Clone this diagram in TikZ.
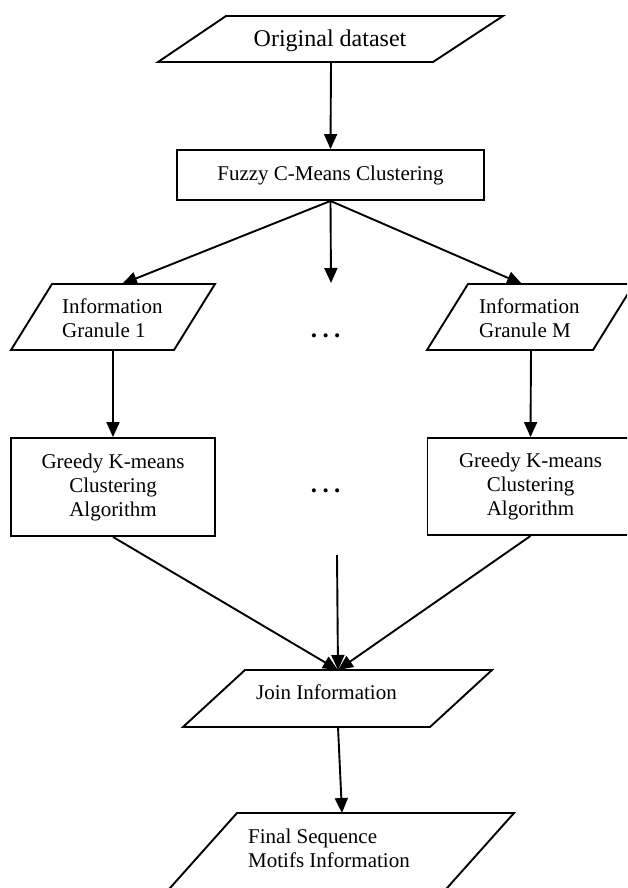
\documentclass[tikz,border=0pt]{standalone}
\usepackage{fontspec}
\setmainfont{Liberation Serif}
\usetikzlibrary{arrows.meta}
\tikzset{
  shapeline/.style={draw=black, line width=1.9pt, line join=miter},
  boxnode/.style={draw=black, line width=1.9pt, rectangle, inner sep=0pt, align=center, font=\fontsize{21}{24}\selectfont},
  txt/.style={inner sep=0pt, font=\fontsize{21}{24}\selectfont},
  dotsnode/.style={inner sep=0pt, anchor=base, font=\bfseries\fontsize{25}{28}\selectfont},
  flow/.style={-{Triangle[length=15pt,width=13pt]}, line width=1.9pt}
}
\begin{document}
\begin{tikzpicture}[x=1pt,y=-1pt]
\useasboundingbox (0,0) rectangle (627,888);
\clip (0,0) rectangle (627,888);
% Original dataset
\draw[shapeline] (226,16) -- (503,16) -- (433,62) -- (158,62) -- cycle;
\node[txt, font=\fontsize{24}{27}\selectfont, anchor=base] (orig) at (330,47) {Original dataset};
\coordinate (origB) at (331,62);
% Fuzzy C-Means
\node[boxnode, minimum width=307pt, minimum height=50pt] (fcm) at (330.5,175) {Fuzzy C-Means Clustering};
% Granules
\draw[shapeline] (52,284) -- (215,284) -- (174,350) -- (11,350) -- cycle;
\node[txt, align=left, anchor=west] (g1) at (62,318) {Information\\Granule 1};
\coordinate (g1T) at (122,284);
\coordinate (g1B) at (113,350);
\draw[shapeline] (468,284) -- (634,284) -- (593,350) -- (427,350) -- cycle;
\node[txt, align=left, anchor=west] (gM) at (479,318) {Information\\Granule M};
\coordinate (gMT) at (522,284);
\coordinate (gMB) at (531,350);
\coordinate (mid1) at (331,283);
\node[dotsnode] (dots1) at (325.7,337) {.\kern5.4pt.\kern5.4pt.};
% Greedy boxes
\node[boxnode, minimum width=204pt, minimum height=98pt] (k1) at (113,487) {Greedy K-means\\Clustering\\Algorithm};
\node[boxnode, minimum width=206pt, minimum height=97pt] (kM) at (530.5,486.5) {Greedy K-means\\Clustering\\Algorithm};
\node[dotsnode] (dots2) at (325.7,492) {.\kern5.4pt.\kern5.4pt.};
\coordinate (mid2) at (337,555);
% Join
\draw[shapeline] (245,670) -- (492,670) -- (430,727) -- (183,727) -- cycle;
\node[txt, anchor=base] (join) at (326.5,699) {Join Information};
\coordinate (joinT) at (338,670);
\coordinate (joinB) at (338,727);
% Final
\draw[shapeline] (237,813) -- (514,813) -- (436.3,900) -- (159.3,900) -- cycle;
\node[txt, align=left, anchor=west] (fin) at (248,848) {Final Sequence\\Motifs Information};
\coordinate (finT) at (342,813);
% Connectors
\draw[flow] (origB) -- (fcm.north);
\draw[flow] (fcm.south) -- (g1T);
\draw[flow] (fcm.south) -- (mid1);
\draw[flow] (fcm.south) -- (gMT);
\draw[flow] (g1B) -- (k1.north);
\draw[flow] (gMB) -- (kM.north);
\draw[flow] (k1.south) -- (joinT);
\draw[flow] (mid2) -- (joinT);
\draw[flow] (kM.south) -- (joinT);
\draw[flow] (joinB) -- (finT);
\end{tikzpicture}
\end{document}
